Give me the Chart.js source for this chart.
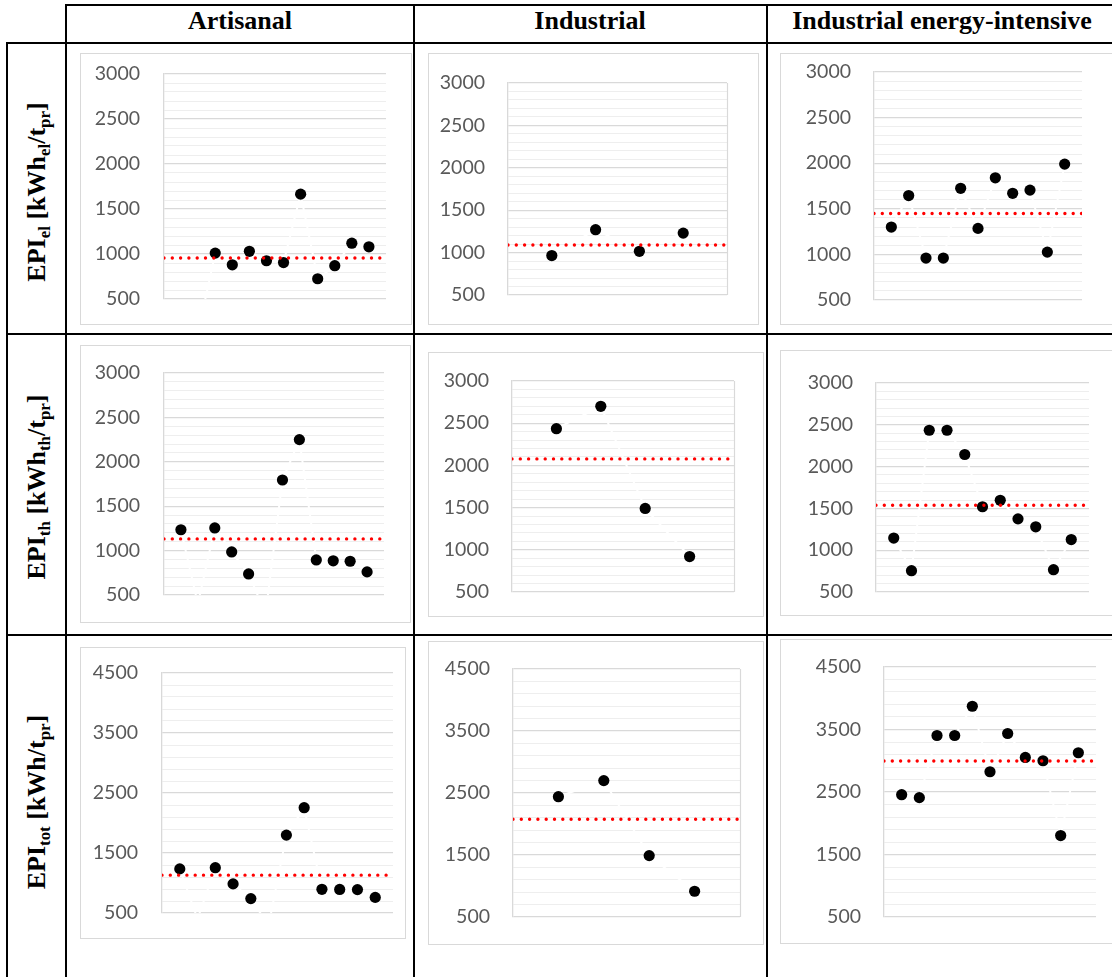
<!DOCTYPE html>
<html>
<head>
<meta charset="utf-8">
<title>EPI by sector</title>
<script src="https://cdn.jsdelivr.net/npm/chart.js@4.4.1/dist/chart.umd.min.js"></script>
<style>
  html, body { margin: 0; padding: 0; background: #fff; width: 1112px; height: 977px; overflow: hidden; }
  #sheet { position: relative; width: 1112px; height: 977px; }
  .rule { position: absolute; background: #000; }
  .head { position: absolute; top: 6px; height: 36px; line-height: 36px; white-space: nowrap;
          font: bold 26px "Liberation Serif", "DejaVu Serif", serif; color: #000;
          transform: translateX(-50%); }
  .rowlab { position: absolute; white-space: nowrap; color: #000;
            font: bold 26px "Liberation Serif", "DejaVu Serif", serif;
            transform: translate(-50%, -50%) rotate(-90deg); }
  .rowlab sub { font-size: 0.65em; vertical-align: -0.3em; line-height: 0; }
  .box { position: absolute; border: 1.5px solid #d9d9d9; box-sizing: border-box; background: #fff; }
  canvas { position: absolute; }
</style>
</head>
<body>
<div id="sheet"></div>
<script>
// Sector columns and indicator rows
const sectors = ['Artisanal', 'Industrial', 'Industrial energy-intensive'];
const rowLabels = [
  'EPI<sub>el</sub> [kWh<sub>el</sub>/t<sub>pr</sub>]',
  'EPI<sub>th</sub> [kWh<sub>th</sub>/t<sub>pr</sub>]',
  'EPI<sub>tot</sub> [kWh/t<sub>pr</sub>]'
];

// Electrical EPI per plant
const artisanalEl = [300, 130, 1010, 880, 1030, 925, 905, 1665, 725, 870, 1120, 1080];
const industrialEl = [965, 1270, 1015, 1230];
const intensiveEl = [1300, 1645, 960, 960, 1725, 1285, 1840, 1670, 1705, 1025, 1990];

// Thermal EPI per plant
const artisanalTh = [1235, 400, 1255, 985, 737, 290, 1795, 2250, 895, 885, 880, 760];
const industrialTh = [2435, 2700, 1490, 920];
const intensiveTh = [1145, 755, 2435, 2435, 2145, 1520, 1597, 1375, 1280, 767, 1127];

// Total EPI per plant
const artisanalTot = [1235, 400, 1255, 985, 740, 290, 1798, 2255, 895, 893, 890, 760];
const industrialTot = [2440, 2700, 1490, 915];
const intensiveTot = [2457, 2410, 3404, 3404, 3872, 2824, 3436, 3053, 3000, 1803, 3128];

// Sector averages (dotted reference lines)
const avgEl = [956, 1089, 1449];
const avgTh = [1132, 2077, 1537];
const avgTot = [1131, 2076, 2995];

// Axis ticks
const elThTicks = [500, 1000, 1500, 2000, 2500, 3000];
const totTicks = [500, 1500, 2500, 3500, 4500];

const sheet = document.getElementById('sheet');

// Table rules
function rule(x, y, w, h) {
  const d = document.createElement('div');
  d.className = 'rule';
  Object.assign(d.style, { left: x + 'px', top: y + 'px', width: w + 'px', height: h + 'px' });
  sheet.appendChild(d);
}
rule(65, 4, 1060, 2);
rule(6, 42, 1120, 2);
rule(6, 333, 1120, 2);
rule(6, 634, 1120, 2);
rule(6, 42, 2, 940);
rule(65, 4, 2, 980);
rule(413, 4, 2, 980);
rule(766, 4, 2, 980);

// Column headers
const headCenters = [240, 590, 942];
sectors.forEach((s, i) => {
  const d = document.createElement('div');
  d.className = 'head';
  d.style.left = headCenters[i] + 'px';
  d.textContent = s;
  sheet.appendChild(d);
});

// Row headers (vertical)
const rowCenters = [192, 487, 802];
rowLabels.forEach((html, i) => {
  const d = document.createElement('div');
  d.className = 'rowlab';
  d.style.left = '37px';
  d.style.top = rowCenters[i] + 'px';
  d.innerHTML = html;
  sheet.appendChild(d);
});

// Right edge of the plot frame for panels that show it
const plotFrame = {
  id: 'plotFrame',
  beforeDatasetsDraw(chart, args, opts) {
    if (!opts.right) return;
    const { ctx, chartArea: a } = chart;
    ctx.save();
    ctx.strokeStyle = '#d9d9d9';
    ctx.lineWidth = 1.2;
    const x = Math.round(a.right) + 0.5;
    ctx.beginPath();
    ctx.moveTo(x, a.top);
    ctx.lineTo(x, a.bottom);
    ctx.stroke();
    ctx.restore();
  }
};

function panel(p) {
  const [bl, bt, br, bb] = p.box;
  const [pl, pt, pr, pb] = p.plot;
  const box = document.createElement('div');
  box.className = 'box';
  Object.assign(box.style, { left: bl + 'px', top: bt + 'px', width: (br - bl) + 'px', height: (bb - bt) + 'px' });
  sheet.appendChild(box);

  const cv = document.createElement('canvas');
  cv.width = br - bl;
  cv.height = bb - bt;
  Object.assign(cv.style, { left: bl + 'px', top: bt + 'px' });
  sheet.appendChild(cv);

  const pts = p.values.map((v, i) => ({ x: i + 1, y: v }));
  const xMax = p.values.length + 1;

  new Chart(cv, {
    type: 'scatter',
    data: {
      datasets: [
        {
          data: [{ x: 0, y: p.avg }, { x: xMax, y: p.avg }],
          showLine: true,
          borderColor: '#ff0000',
          borderWidth: 3.4,
          borderDash: [0, 8.3],
          borderCapStyle: 'round',
          pointRadius: 0
        },
        {
          data: pts,
          showLine: true,
          borderColor: '#ffffff',
          borderWidth: 2,
          pointRadius: 5.6,
          pointBackgroundColor: '#000000',
          pointBorderWidth: 0
        }
      ]
    },
    options: {
      responsive: false,
      animation: false,
      events: [],
      layout: { autoPadding: false, padding: { left: 0, top: pt - bt, right: br - pr, bottom: bb - pb } },
      plugins: { legend: { display: false }, tooltip: { enabled: false }, plotFrame: { right: !!p.frameRight } },
      scales: {
        x: { type: 'linear', min: 0, max: xMax, display: false },
        y: {
          min: p.ticks[0],
          max: p.ticks[p.ticks.length - 1],
          afterFit(scale) { scale.width = pl - bl; },
          ticks: {
            stepSize: p.minor,
            autoSkip: false,
            padding: 0,
            color: '#595959',
            font: { family: 'Lato', size: 19.5 },
            callback: (v) => (p.ticks.includes(v) ? String(v) : '')
          },
          grid: {
            drawTicks: true,
            tickLength: pl - p.labelRight,
            tickColor: 'rgba(0,0,0,0)',
            color: (c) => (p.ticks.includes(c.tick.value) ? '#d9d9d9' : '#eeeeee'),
            lineWidth: (c) => (p.ticks.includes(c.tick.value) ? 1.3 : 1)
          },
          border: { display: true, color: '#d9d9d9', width: 1.3 }
        }
      }
    },
    plugins: [plotFrame]
  });
}

panel({ box: [80, 53, 412, 325], plot: [164, 74, 386, 299], labelRight: 140, values: artisanalEl, avg: avgEl[0], ticks: elThTicks, minor: 100 });
panel({ box: [428, 53, 759, 325], plot: [508, 83, 727, 295], labelRight: 485, values: industrialEl, avg: avgEl[1], ticks: elThTicks, minor: 100, frameRight: true });
panel({ box: [780, 53, 1122, 325], plot: [874, 72, 1082, 300], labelRight: 851, values: intensiveEl, avg: avgEl[2], ticks: elThTicks, minor: 100 });

panel({ box: [80, 345, 411, 623], plot: [164, 373, 384, 595], labelRight: 140, values: artisanalTh, avg: avgTh[0], ticks: elThTicks, minor: 100 });
panel({ box: [428, 352, 764, 617], plot: [512, 381, 734, 592], labelRight: 489, values: industrialTh, avg: avgTh[1], ticks: elThTicks, minor: 100, frameRight: true });
panel({ box: [780, 350, 1122, 616], plot: [876, 383, 1089, 592], labelRight: 853, values: intensiveTh, avg: avgTh[2], ticks: elThTicks, minor: 100 });

panel({ box: [80, 647, 406, 939], plot: [162, 673, 393, 913], labelRight: 138, values: artisanalTot, avg: avgTot[0], ticks: totTicks, minor: 200 });
panel({ box: [428, 641, 764, 945], plot: [513, 669, 740, 917], labelRight: 490, values: industrialTot, avg: avgTot[1], ticks: totTicks, minor: 200, frameRight: true });
panel({ box: [780, 639, 1122, 944], plot: [884, 667, 1096, 917], labelRight: 861, values: intensiveTot, avg: avgTot[2], ticks: totTicks, minor: 200 });
</script>
</body>
</html>
